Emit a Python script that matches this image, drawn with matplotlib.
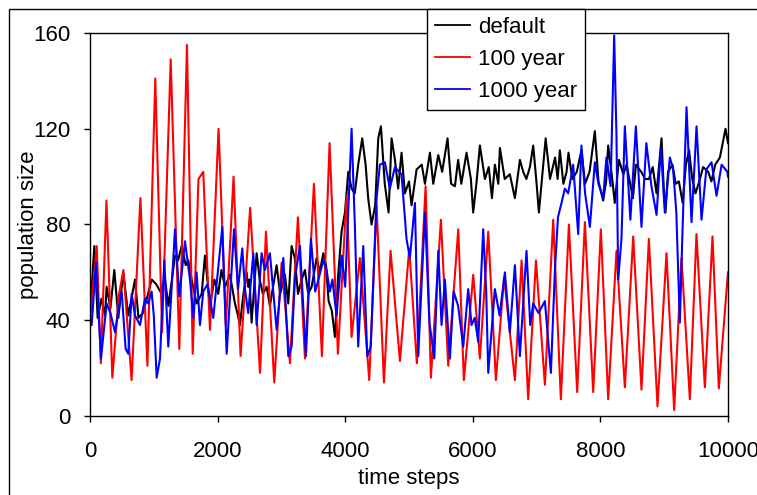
import matplotlib
matplotlib.use("Agg")
import matplotlib.pyplot as plt
from matplotlib.patches import Rectangle

plt.rcParams['font.family'] = ['Liberation Sans', 'DejaVu Sans']

# ---- data ----
default_t = [0, 68, 120, 180, 235, 261, 320, 381, 444, 522, 600, 650, 705, 760, 830, 900, 966, 1040, 1100, 1175,
             1230, 1332, 1380, 1436, 1500, 1540, 1593, 1671, 1750, 1802, 1880, 1950, 2010, 2060, 2116, 2194, 2272,
             2310, 2350, 2400, 2455, 2480, 2500, 2533, 2612, 2660, 2710, 2768, 2820, 2925, 2980, 3055, 3108, 3160,
             3210, 3260, 3317, 3369, 3420, 3474, 3552, 3600, 3657, 3700, 3740, 3790, 3839, 3890, 3943, 3996, 4048,
             4100, 4150, 4204, 4267, 4320, 4360, 4413, 4470, 4518, 4560, 4620, 4680, 4727, 4780, 4830, 4883, 4936,
             5000, 5040, 5119, 5200, 5250, 5328, 5380, 5459, 5520, 5604, 5660, 5720, 5770, 5820, 5902, 5970, 6006,
             6060, 6111, 6190, 6250, 6300, 6346, 6400, 6425, 6500, 6580, 6660, 6738, 6790, 6840, 6895, 6947, 7000,
             7036, 7090, 7142, 7210, 7290, 7330, 7365, 7420, 7470, 7500, 7560, 7630, 7703, 7760, 7830, 7913, 7970,
             8043, 8090, 8122, 8190, 8225, 8290, 8360, 8410, 8460, 8510, 8556, 8640, 8700, 8760, 8820, 8880, 8958,
             9000, 9020, 9060, 9130, 9180, 9230, 9290, 9340, 9390, 9440, 9490, 9550, 9610, 9690, 9740, 9800, 9873,
             9961, 10000]
default_v = [42, 71, 41, 49, 42, 54, 45, 61, 41, 60, 42, 49, 57, 41, 43, 50, 57, 55, 52, 57,
             46, 67, 65, 71, 63, 65, 57, 47, 51, 67, 46, 57, 51, 61, 54, 59, 47,
             43, 38, 50, 60, 54, 57, 39, 68, 57, 51, 54, 46, 63, 51, 59, 47, 71,
             66, 51, 57, 61, 51, 54, 66, 60, 68, 63, 48, 44, 33, 59, 77, 85, 102,
             95, 93, 105, 116, 105, 91, 80, 88, 116, 121, 97, 85, 116, 107, 95, 110, 93,
             98, 88, 103, 105, 97, 110, 97, 109, 102, 116, 97, 96, 107, 97, 110, 99, 85,
             98, 113, 99, 104, 91, 105, 97, 112, 99, 101, 91, 107, 102, 99, 104, 113, 97,
             85, 101, 116, 99, 108, 99, 111, 97, 102, 110, 99, 102, 111, 97, 102, 119, 98,
             90, 98, 113, 98, 89, 107, 101, 105, 98, 91, 105, 102, 99, 99, 104, 93, 116,
             91, 85, 102, 105, 97, 98, 89, 105, 111, 99, 93, 98, 104, 102, 98, 105, 108,
             120, 114]

y100_t = [0, 50, 106, 170, 258, 350, 450, 523, 652, 790, 900, 1023, 1130, 1265, 1400, 1520, 1610, 1700, 1775,
          1880, 2015, 2130, 2250, 2360, 2510, 2665, 2758, 2888, 3003, 3134, 3259, 3369, 3510, 3635, 3755, 3886,
          4022, 4100, 4230, 4377, 4492, 4607, 4711, 4858, 5004, 5123, 5260, 5343, 5500, 5615, 5772, 5860, 6007,
          6111, 6242, 6362, 6490, 6660, 6765, 6868, 6990, 7130, 7260, 7380, 7506, 7636, 7757, 7887, 8007, 8122,
          8252, 8383, 8514, 8644, 8760, 8895, 9036, 9156, 9271, 9402, 9506, 9637, 9757, 9856, 10000]
y100_v = [40, 55, 71, 22, 90, 16, 50, 61, 15, 91, 21, 141, 35, 149, 28, 155, 26, 99, 102,
          36, 120, 38, 100, 25, 87, 18, 77, 14, 64, 22, 83, 24, 97, 25, 114, 26,
          92, 33, 66, 15, 88, 14, 69, 23, 70, 22, 96, 16, 82, 21, 78, 15, 59,
          24, 77, 15, 58, 15, 65, 7, 65, 13, 82, 7, 80, 10, 81, 10, 78, 7,
          69, 12, 75, 11, 74, 4, 68, 2.5, 66, 7, 76, 12, 75, 11.5, 60]

y1000_t = [0, 26, 94, 172, 261, 320, 392, 439, 496, 559, 600, 653, 705, 784, 862, 914, 966, 1000, 1045, 1097,
           1165, 1227, 1332, 1400, 1489, 1567, 1619, 1671, 1724, 1775, 1840, 1932, 2074, 2142, 2257, 2320, 2387,
           2429, 2480, 2560, 2612, 2690, 2740, 2820, 2925, 3030, 3108, 3160, 3213, 3291, 3385, 3463, 3530, 3580,
           3657, 3708, 3760, 3800, 3864, 3943, 4000, 4100, 4152, 4204, 4240, 4283, 4346, 4400, 4492, 4543, 4622,
           4700, 4779, 4883, 4961, 5014, 5093, 5145, 5250, 5320, 5396, 5459, 5510, 5563, 5641, 5700, 5770, 5850,
           5928, 5980, 6030, 6085, 6163, 6210, 6242, 6346, 6420, 6503, 6581, 6660, 6738, 6842, 6900, 6947, 7030,
           7130, 7224, 7287, 7335, 7390, 7443, 7495, 7573, 7652, 7703, 7760, 7835, 7913, 7970, 8043, 8095, 8160,
           8216, 8252, 8279, 8330, 8383, 8470, 8556, 8644, 8720, 8800, 8880, 8948, 9010, 9089, 9140, 9190, 9245,
           9290, 9350, 9428, 9507, 9585, 9660, 9742, 9820, 9900, 9990, 10000]
y1000_v = [38, 38, 64, 24, 47, 43, 35, 43, 52, 28, 26, 51, 42, 38, 49, 47, 52, 42, 16, 24,
           65, 29, 78, 50, 73, 57, 41, 60, 38, 52, 55, 41, 79, 26, 78, 53, 70,
           53, 43, 68, 38, 68, 61, 68, 36, 66, 25, 29, 58, 71, 25, 74, 52, 57,
           65, 61, 52, 57, 42, 67, 54, 120, 79, 29, 48, 71, 25, 29, 91, 105, 106,
           95, 104, 101, 74, 66, 89, 25, 85, 39, 24, 69, 38, 57, 24, 52, 46, 29,
           53, 38, 41, 31, 78, 52, 18, 53, 42, 60, 35, 63, 25, 69, 38, 47, 43,
           48, 18, 61, 83, 89, 95, 93, 105, 76, 113, 93, 79, 106, 97, 91, 108, 96,
           159, 117, 57, 74, 121, 82, 121, 79, 114, 96, 84, 112, 85, 108, 103, 85, 39,
           80, 129, 81, 121, 82, 103, 106, 92, 105, 102, 100]

x_ticks = [0, 2000, 4000, 6000, 8000, 10000]
y_ticks = [0, 40, 80, 120, 160]
series_labels = ['default', '100 year', '1000 year']
series_colors = ['#000000', '#ff0000', '#0000ff']

# ---- figure ----
W, H = 757, 495
fig = plt.figure(figsize=(W / 100, H / 100), dpi=100)
ax = fig.add_axes([90 / W, 1 - 416 / H, (728 - 90) / W, (416 - 33) / H])

lines = []
for (t, v), lab, col in zip([(default_t, default_v), (y100_t, y100_v), (y1000_t, y1000_v)],
                            series_labels, series_colors):
    ln, = ax.plot(t, v, color=col, lw=1.5, label=lab)
    lines.append(ln)

ax.set_xlim(0, 10000)
ax.set_ylim(0, 160)
ax.set_xticks(x_ticks)
ax.set_yticks(y_ticks)
ax.set_xticklabels([str(x) for x in x_ticks])
ax.tick_params(axis='both', labelsize=16, direction='out', length=4, width=1, color='black')
ax.tick_params(axis='x', pad=14)
ax.tick_params(axis='y', pad=10)
for s in ax.spines.values():
    s.set_color('black')
    s.set_linewidth(1.0)
ax.set_xlabel('time steps', fontsize=16, labelpad=4)
ax.set_ylabel('population size', fontsize=16)
ax.yaxis.set_label_coords((39 - 90) / 638, 0.5)

# outer chart-area border
fig.patches.append(Rectangle((9 / W, -0.1), 1.2, 1 - 9 / H + 0.1, transform=fig.transFigure,
                             fill=False, edgecolor='black', lw=1.0, zorder=0))

leg = fig.legend(handles=lines, labels=series_labels, loc='upper left',
                 bbox_to_anchor=(427 / W, 1 - 9 / H), borderaxespad=0, fontsize=16,
                 frameon=True, fancybox=False, framealpha=1, edgecolor='black',
                 handlelength=1.6, handletextpad=0.35, labelspacing=0.5, borderpad=0.35)
leg.get_frame().set_linewidth(1.0)
for lh in leg.get_lines():
    lh.set_linewidth(1.3)

fig.savefig('out.png', dpi=100)
